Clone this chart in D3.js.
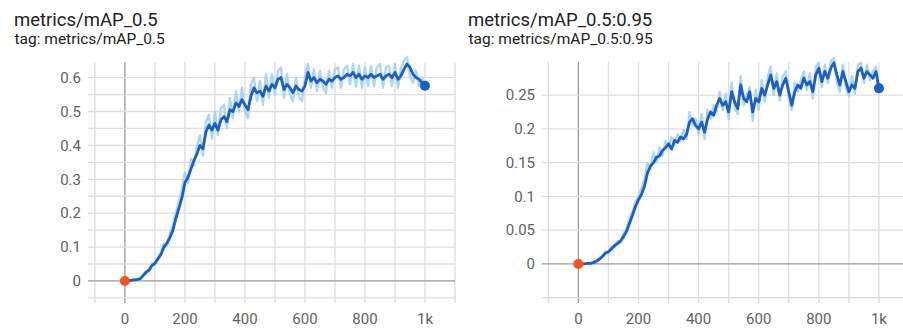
<!DOCTYPE html>
<html><head><meta charset="utf-8">
<script src="https://cdn.jsdelivr.net/npm/d3@7"></script>
<style>
html,body{margin:0;padding:0;background:#fff;}
svg{display:block;font-family:Roboto,"Noto Sans",sans-serif;}
</style></head>
<body><svg id="c" width="903" height="329"></svg>
<script>
// ---- data ----
const steps = d3.range(0, 1001, 10);

const titles = ["metrics/mAP_0.5", "metrics/mAP_0.5:0.95"];

const map50Smooth = [
0.000,0.001,0.002,0.003,0.004,0.006,0.015,0.025,0.032,0.045,
0.052,0.065,0.078,0.100,0.112,0.128,0.150,0.185,0.215,0.245,
0.290,0.305,0.330,0.355,0.375,0.400,0.390,0.440,0.460,0.445,
0.465,0.445,0.475,0.485,0.470,0.505,0.500,0.525,0.515,0.535,
0.520,0.505,0.545,0.570,0.555,0.560,0.545,0.575,0.560,0.580,
0.570,0.595,0.600,0.565,0.580,0.570,0.555,0.575,0.565,0.560,
0.575,0.615,0.590,0.600,0.585,0.595,0.590,0.580,0.595,0.590,
0.600,0.605,0.595,0.600,0.610,0.605,0.615,0.600,0.610,0.595,
0.605,0.600,0.610,0.600,0.605,0.610,0.595,0.605,0.610,0.600,
0.615,0.595,0.605,0.625,0.640,0.630,0.610,0.600,0.595,0.585,
0.576];

const map50Raw = [
0.000,0.001,0.002,0.004,0.005,0.008,0.018,0.030,0.028,0.052,
0.048,0.072,0.085,0.110,0.105,0.140,0.165,0.200,0.235,0.270,
0.320,0.290,0.360,0.340,0.400,0.430,0.370,0.470,0.490,0.420,
0.500,0.430,0.510,0.520,0.450,0.540,0.480,0.560,0.500,0.570,
0.500,0.480,0.580,0.600,0.530,0.590,0.520,0.610,0.540,0.610,
0.550,0.620,0.630,0.540,0.610,0.550,0.530,0.600,0.545,0.530,
0.600,0.640,0.570,0.625,0.560,0.620,0.570,0.555,0.620,0.570,
0.625,0.630,0.570,0.625,0.635,0.580,0.640,0.575,0.635,0.570,
0.630,0.575,0.635,0.575,0.630,0.640,0.570,0.630,0.635,0.575,
0.640,0.570,0.630,0.650,0.660,0.605,0.585,0.620,0.575,0.600,
0.570];

const map5095Smooth = [
0.000,0.000,0.000,0.001,0.001,0.002,0.004,0.007,0.011,0.016,
0.018,0.022,0.027,0.030,0.034,0.040,0.048,0.060,0.072,0.085,
0.095,0.103,0.115,0.135,0.145,0.150,0.158,0.160,0.168,0.172,
0.178,0.170,0.183,0.180,0.188,0.185,0.192,0.210,0.215,0.205,
0.200,0.210,0.195,0.215,0.225,0.220,0.235,0.245,0.235,0.240,
0.225,0.255,0.240,0.230,0.265,0.245,0.240,0.255,0.225,0.245,
0.240,0.260,0.250,0.265,0.280,0.260,0.270,0.250,0.265,0.275,
0.255,0.235,0.255,0.265,0.260,0.275,0.265,0.270,0.255,0.280,
0.290,0.270,0.285,0.275,0.290,0.298,0.280,0.265,0.285,0.270,
0.255,0.265,0.260,0.285,0.290,0.275,0.285,0.280,0.275,0.285,
0.260];

const map5095Raw = [
0.000,0.000,0.000,0.001,0.001,0.003,0.005,0.009,0.012,0.019,
0.016,0.026,0.025,0.034,0.031,0.045,0.052,0.066,0.078,0.092,
0.100,0.112,0.125,0.150,0.140,0.165,0.150,0.172,0.160,0.182,
0.172,0.188,0.175,0.192,0.182,0.198,0.185,0.225,0.205,0.215,
0.192,0.222,0.185,0.228,0.215,0.235,0.225,0.255,0.228,0.252,
0.215,0.268,0.230,0.222,0.278,0.235,0.250,0.262,0.212,0.258,
0.228,0.272,0.240,0.278,0.292,0.250,0.282,0.242,0.278,0.285,
0.245,0.228,0.268,0.255,0.272,0.285,0.258,0.282,0.245,0.292,
0.298,0.262,0.295,0.268,0.300,0.305,0.270,0.255,0.295,0.262,
0.248,0.278,0.252,0.295,0.298,0.268,0.295,0.272,0.285,0.292,
0.255];

const xGridTicks = [-100,0,100,200,300,400,500,600,700,800,900,1000,1100];
const xLabelTicks = [0,200,400,600,800,1000];
const xLabels = ["0","200","400","600","800","1k"];
const yGridLeft = [-0.05,0,0.05,0.1,0.15,0.2,0.25,0.3,0.35,0.4,0.45,0.5,0.55,0.6];
const yLabelLeft = [0,0.1,0.2,0.3,0.4,0.5,0.6];
const yGridRight = [-0.05,0,0.05,0.1,0.15,0.2,0.25];
const yLabelRight = [0,0.05,0.1,0.15,0.2,0.25];

// ---- drawing ----
const svg = d3.select("#c");

const panels = [
  {title: titles[0], ox: 0, smooth: map50Smooth, raw: map50Raw,
   xr: [88, 455], xd: [-123, 1100], yd: [-0.065, 0.646],
   yGrid: yGridLeft, yLab: yLabelLeft, yFmt: d3.format("~g")},
  {title: titles[1], ox: 454, smooth: map5095Smooth, raw: map5095Raw,
   xr: [88, 455], xd: [-121, 1100], yd: [-0.0578, 0.299],
   yGrid: yGridRight, yLab: yLabelRight, yFmt: d3.format("~g")}
];

panels.forEach(p => {
  const g = svg.append("g").attr("transform", `translate(${p.ox},0)`);
  g.append("text").attr("x", 14).attr("y", 25.5).attr("font-size", 18.5)
    .attr("fill", "#212121").text(p.title);
  g.append("text").attr("x", 14.5).attr("y", 43.5).attr("font-size", 15.5)
    .attr("fill", "#212121").text("tag: " + p.title);

  const x = d3.scaleLinear().domain(p.xd).range(p.xr);
  const y = d3.scaleLinear().domain(p.yd).range([303, 62]);
  const [x0, x1] = p.xr;

  // grid
  g.append("g").selectAll("line").data(xGridTicks).join("line")
    .attr("x1", d => x(d)).attr("x2", d => x(d))
    .attr("y1", 62).attr("y2", 303)
    .attr("stroke", d => d === 0 ? "#999999" : "#dddddd").attr("stroke-width", 1.3);
  g.append("g").selectAll("line").data(p.yGrid).join("line")
    .attr("x1", x0).attr("x2", x1)
    .attr("y1", d => y(d)).attr("y2", d => y(d))
    .attr("stroke", d => d === 0 ? "#999999" : "#dddddd").attr("stroke-width", 1.3);

  // axis labels
  g.append("g").selectAll("text").data(p.yLab).join("text")
    .attr("x", 81).attr("y", d => y(d)).attr("dy", "0.35em")
    .attr("text-anchor", "end").attr("font-size", 15).attr("fill", "#616161")
    .text(d => p.yFmt(d));
  g.append("g").selectAll("text").data(xLabelTicks).join("text")
    .attr("x", d => x(d)).attr("y", 324)
    .attr("text-anchor", "middle").attr("font-size", 15).attr("fill", "#616161")
    .text((d, i) => xLabels[i]);

  const line = d3.line().x((d, i) => x(steps[i])).y(d => y(d));
  g.append("path").datum(p.raw).attr("d", line)
    .attr("fill", "none").attr("stroke", "#a3d0f5").attr("stroke-width", 2.4)
    .attr("stroke-linejoin", "round").attr("opacity", 0.9);
  g.append("path").datum(p.smooth).attr("d", line)
    .attr("fill", "none").attr("stroke", "#1a5fc6").attr("stroke-width", 2.8)
    .attr("stroke-linejoin", "round");

  g.append("circle").attr("cx", x(steps[0])).attr("cy", y(p.smooth[0]))
    .attr("r", 5).attr("fill", "#f4511e");
  const n = steps.length - 1;
  g.append("circle").attr("cx", x(steps[n])).attr("cy", y(p.smooth[n]))
    .attr("r", 5).attr("fill", "#1a5fc6");
});
</script></body></html>
